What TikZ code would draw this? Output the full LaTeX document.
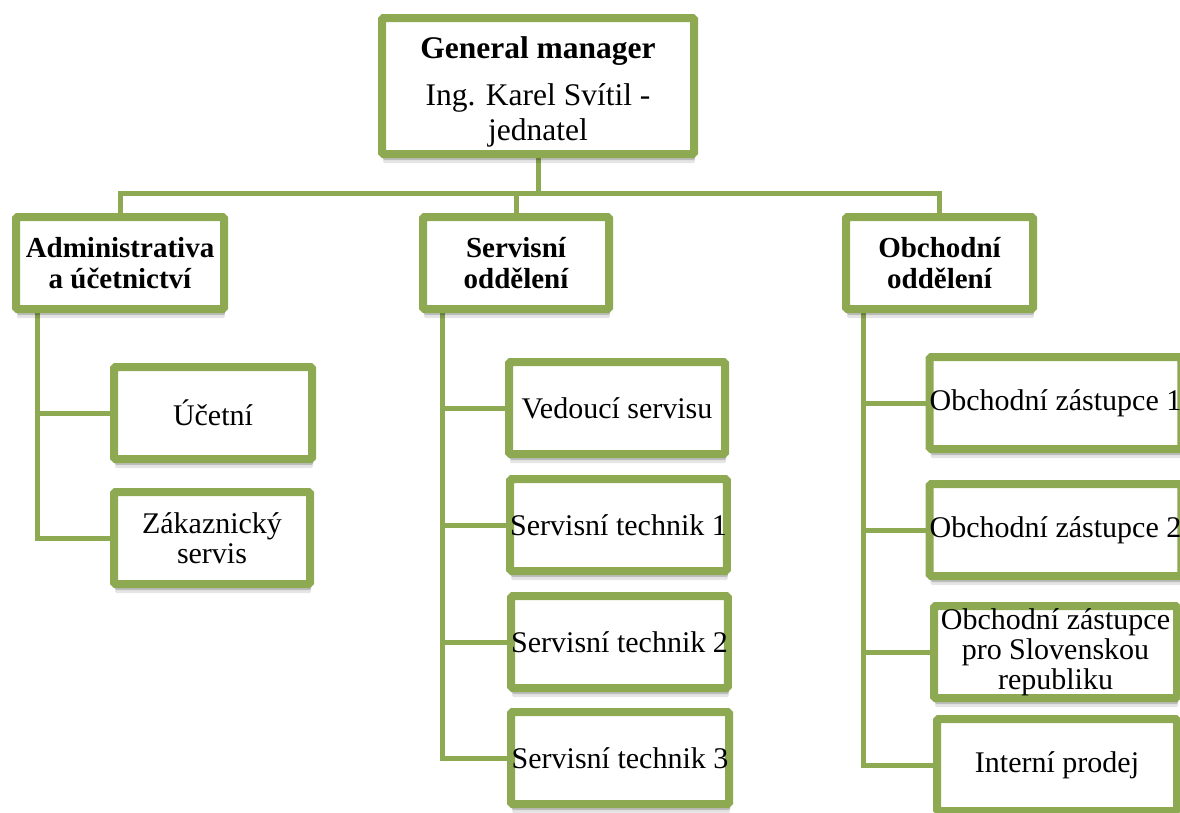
\documentclass[tikz,border=0pt]{standalone}
\usepackage{fontspec}
\setmainfont{Liberation Serif}
\usetikzlibrary{shadows,backgrounds}
\definecolor{grn}{RGB}{141,169,82}
\tikzset{
  orgbox/.style={draw=grn, line width=8pt, fill=white, rounded corners=1.5pt,
    inner sep=0pt, align=center, text=black,
    general shadow={shadow yshift=-9pt, shadow xshift=1pt, fill=black, opacity=0.10},
    general shadow={shadow yshift=-6pt, shadow xshift=1pt, fill=black, opacity=0.18}},
  headbox/.style={orgbox, minimum height=92pt, font=\fontsize{29}{31}\selectfont\bfseries},
  subbox/.style={orgbox, minimum height=92pt, font=\fontsize{30}{30}\selectfont},
  conn/.style={draw=grn, line width=5pt, line join=miter},
}
\begin{document}
\begin{tikzpicture}[x=1pt,y=-1pt]
\useasboundingbox (0,0) rectangle (1180,812);
% top
\node[orgbox, minimum width=312pt, minimum height=136pt, font=\fontsize{31.5}{35}\selectfont] (gm) at (538,86)
  {\rule{0pt}{34pt}\textbf{General manager}\\[12pt]Ing. Karel Svítil -\\jednatel};
% heads
\node[headbox, minimum width=208pt] (adm) at (120,263) {Administrativa\\a účetnictví};
\node[headbox, minimum width=186pt] (ser) at (516,263) {Servisní\\oddělení};
\node[headbox, minimum width=187pt] (obc) at (939.5,263) {Obchodní\\oddělení};
% admin children
\node[subbox, minimum width=198pt] (ucet) at (213,413) {Účetní};
\node[subbox, minimum width=196pt] (zak) at (212,538) {Zákaznický\\servis};
% servis children
\node[subbox, minimum width=216pt] (ved) at (617,408) {Vedoucí servisu};
\node[subbox, minimum width=215pt] (st1) at (618.5,525) {Servisní technik 1};
\node[subbox, minimum width=215pt] (st2) at (619.5,642) {Servisní technik 2};
\node[subbox, minimum width=218pt] (st3) at (620,758) {Servisní technik 3};
% obchod children
\node[subbox, minimum width=243pt] (oz1) at (1055.5,403) {Obchodní zástupce 1};
\node[subbox, minimum width=243pt] (oz2) at (1055.5,530) {Obchodní zástupce 2};
\node[subbox, minimum width=243pt] (oz3) at (1055.5,652) {Obchodní zástupce\\pro Slovenskou\\republiku};
\node[subbox, minimum width=240pt] (ip) at (1057,765) {Interní prodej};
% helper coordinates
\coordinate (busy) at (0,193);
\coordinate (xa) at (37,0);
\coordinate (xs) at (442,0);
\coordinate (xo) at (863,0);
\begin{scope}[on background layer]
\draw[conn] (gm.south) -- (gm.south |- busy) -| (adm.north);
\draw[conn] (gm.south) -- (gm.south |- busy) -| (ser.north);
\draw[conn] (gm.south) -- (gm.south |- busy) -| (obc.north);
\draw[conn] (adm.south -| xa) |- (ucet.west);
\draw[conn] (adm.south -| xa) |- (zak.west);
\draw[conn] (ser.south -| xs) |- (ved.west);
\draw[conn] (ser.south -| xs) |- (st1.west);
\draw[conn] (ser.south -| xs) |- (st2.west);
\draw[conn] (ser.south -| xs) |- (st3.west);
\draw[conn] (obc.south -| xo) |- (oz1.west);
\draw[conn] (obc.south -| xo) |- (oz2.west);
\draw[conn] (obc.south -| xo) |- (oz3.west);
\draw[conn] (obc.south -| xo) |- (ip.west);
\end{scope}
\end{tikzpicture}
\end{document}
